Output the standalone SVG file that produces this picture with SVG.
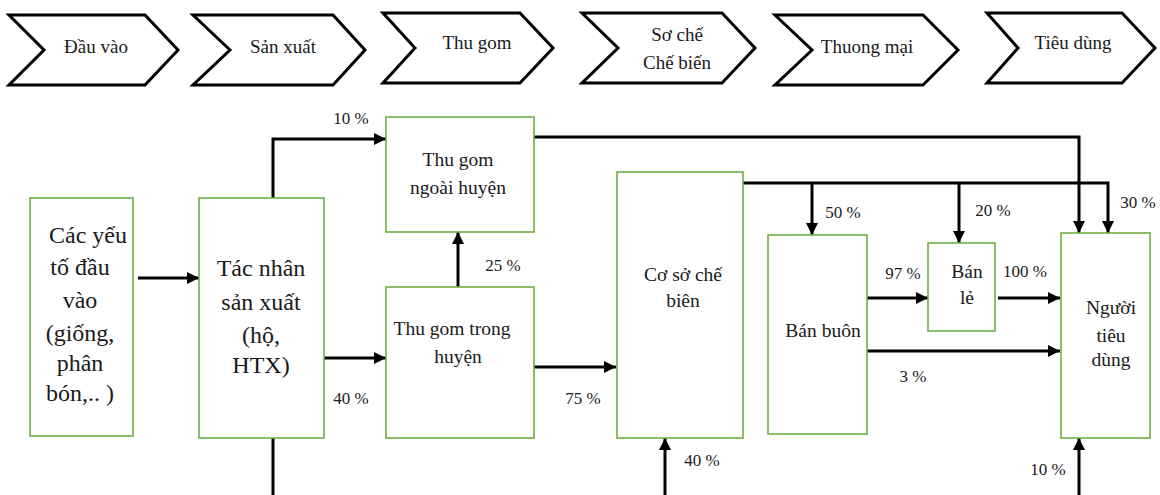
<svg xmlns="http://www.w3.org/2000/svg" width="1160" height="495" viewBox="0 0 1160 495">
<style>
.chev{fill:#fff;stroke:#000;stroke-width:3;stroke-linejoin:miter}
.box{fill:#fff;stroke:#70AD47;stroke-width:1.6}
.t{font-family:'Liberation Serif','Tinos','DejaVu Serif',serif;fill:#1a1a1a;text-anchor:middle}
.s19{font-size:19px}
.s20{font-size:19.5px}
.s24{font-size:24px}
.lbl{font-family:'Liberation Serif','Tinos','DejaVu Serif',serif;font-size:17px;fill:#1a1a1a;text-anchor:middle}
.ln{fill:none;stroke:#000;stroke-width:3}
</style>
<defs>
<marker id="ah" markerUnits="userSpaceOnUse" markerWidth="13" markerHeight="13" refX="12" refY="6" orient="auto">
<path d="M0,0 L12,6 L0,12 z" fill="#000"/>
</marker>
</defs>
<rect width="1160" height="495" fill="#fff"/>

<g id="stages">
<g id="stage-dau-vao"><polygon class="chev" points="9,15 145,15 178,50 145,85 9,85 44,50"/><text class="t s19" x="96" y="53">Đầu vào</text></g>
<g id="stage-san-xuat"><polygon class="chev" points="193,15 333,15 365,50 333,85 193,85 230,50"/><text class="t s19" x="283" y="53">Sản xuất</text></g>
<g id="stage-thu-gom"><polygon class="chev" points="383,13 520,13 553,48 520,83 383,83 415,48"/><text class="t s19" x="477" y="49">Thu gom</text></g>
<g id="stage-so-che"><polygon class="chev" points="582,13 722,13 755,48 722,83 582,83 618,48"/><text class="t s19" x="677" y="41">Sơ chế</text><text class="t s19" x="677" y="69">Chế biến</text></g>
<g id="stage-thuong-mai"><polygon class="chev" points="775,15 923,15 958,50 923,85 775,85 812,50"/><text class="t s19" x="867" y="53">Thuong mại</text></g>
<g id="stage-tieu-dung"><polygon class="chev" points="987,13 1122,13 1155,48 1122,83 987,83 1018,48"/><text class="t s19" x="1073" y="49">Tiêu dùng</text></g>
</g>

<g id="connectors">
<line class="ln" x1="138" y1="278" x2="199" y2="278" marker-end="url(#ah)"/>
<polyline class="ln" points="273,198 273,139 386,139" marker-end="url(#ah)"/>
<line class="ln" x1="324" y1="358" x2="386" y2="358" marker-end="url(#ah)"/>
<line class="ln" x1="273" y1="438" x2="273" y2="495"/>
<line class="ln" x1="458" y1="292" x2="458" y2="232" marker-end="url(#ah)"/>
<line class="ln" x1="534" y1="367" x2="616" y2="367" marker-end="url(#ah)"/>
<line class="ln" x1="665" y1="495" x2="665" y2="438" marker-end="url(#ah)"/>
<polyline class="ln" points="534,137 1079,137 1079,233" marker-end="url(#ah)"/>
<polyline class="ln" points="743,183 1108,183 1108,233" marker-end="url(#ah)"/>
<line class="ln" x1="812" y1="183" x2="812" y2="235" marker-end="url(#ah)"/>
<line class="ln" x1="959" y1="183" x2="959" y2="243" marker-end="url(#ah)"/>
<line class="ln" x1="867" y1="298" x2="928" y2="298" marker-end="url(#ah)"/>
<line class="ln" x1="998" y1="298" x2="1060" y2="298" marker-end="url(#ah)"/>
<line class="ln" x1="867" y1="351" x2="1060" y2="351" marker-end="url(#ah)"/>
<line class="ln" x1="1079" y1="495" x2="1079" y2="438" marker-end="url(#ah)"/>
<text class="lbl" x="351" y="124">10 %</text>
<text class="lbl" x="351" y="404">40 %</text>
<text class="lbl" x="503" y="271">25 %</text>
<text class="lbl" x="583" y="404">75 %</text>
<text class="lbl" x="702" y="466">40 %</text>
<text class="lbl" x="843" y="218">50 %</text>
<text class="lbl" x="993" y="216">20 %</text>
<text class="lbl" x="1138" y="208">30 %</text>
<text class="lbl" x="903" y="279">97 %</text>
<text class="lbl" x="1025" y="277">100 %</text>
<text class="lbl" x="913" y="382">3 %</text>
<text class="lbl" x="1048" y="475">10 %</text>
</g>

<g id="node-yeu-to-dau-vao">
<rect class="box" x="30" y="198" width="103" height="238"/>
<text class="t s24" x="88" y="243">Các yếu</text>
<text class="t s24" x="80" y="275">tố đầu</text>
<text class="t s24" x="80" y="308">vào</text>
<text class="t s24" x="80" y="341">(giống,</text>
<text class="t s24" x="80" y="371">phân</text>
<text class="t s24" x="80" y="401">bón,.. )</text>
</g>

<g id="node-tac-nhan-san-xuat">
<rect class="box" x="199" y="198" width="125" height="240"/>
<text class="t s24" x="261" y="276">Tác nhân</text>
<text class="t s24" x="261" y="310">sản xuất</text>
<text class="t s24" x="261" y="343">(hộ,</text>
<text class="t s24" x="261" y="373">HTX)</text>
</g>

<g id="node-thu-gom-ngoai-huyen">
<rect class="box" x="386" y="117" width="148" height="115"/>
<text class="t s20" x="458" y="166">Thu gom</text>
<text class="t s20" x="458" y="194">ngoài huyện</text>
</g>

<g id="node-thu-gom-trong-huyen">
<rect class="box" x="386" y="287" width="148" height="151"/>
<text class="t s20" x="452" y="335">Thu gom trong</text>
<text class="t s20" x="458" y="363">huyện</text>
</g>

<g id="node-co-so-che-bien">
<rect class="box" x="617" y="172" width="126" height="266"/>
<text class="t s20" x="683" y="281">Cơ sở chế</text>
<text class="t s20" x="683" y="307">biên</text>
</g>

<g id="node-ban-buon">
<rect class="box" x="768" y="235" width="99" height="199"/>
<text class="t s20" x="823" y="337">Bán buôn</text>
</g>

<g id="node-ban-le">
<rect class="box" x="928" y="243" width="67" height="88"/>
<text class="t s20" x="967" y="278">Bán</text>
<text class="t s20" x="967" y="304">lẻ</text>
</g>

<g id="node-nguoi-tieu-dung">
<rect class="box" x="1061" y="233" width="89" height="205"/>
<text class="t s20" x="1111" y="314">Người</text>
<text class="t s20" x="1111" y="342">tiêu</text>
<text class="t s20" x="1111" y="366">dùng</text>
</g>
</svg>
